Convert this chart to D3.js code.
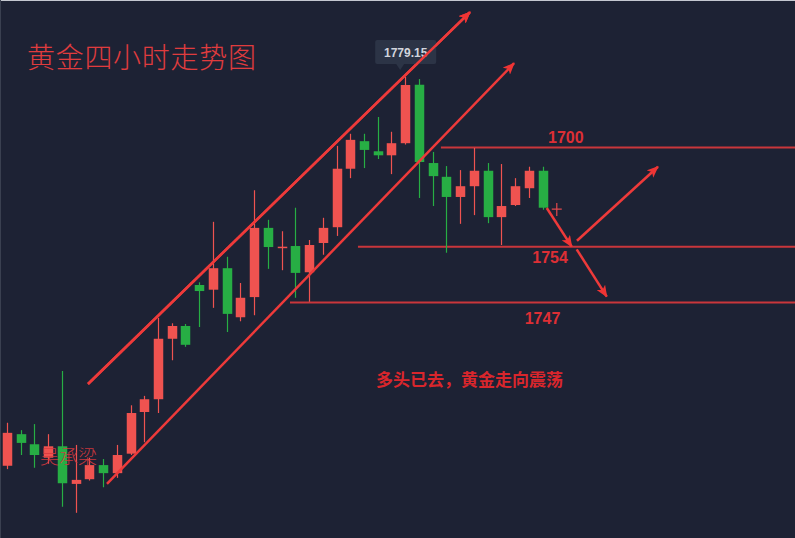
<!DOCTYPE html>
<html>
<head>
<meta charset="utf-8">
<script src="https://cdn.jsdelivr.net/npm/d3@7"></script>
<style>
  html, body { margin: 0; padding: 0; background: #1d2234; }
  svg { display: block; }
</style>
</head>
<body>
<svg id="chart" width="795" height="538"></svg>
<script>
// ---- Data (4H gold candles) ----
const bars  = ["K01","K02","K03","K04","K05","K06","K07","K08","K09","K10",
               "K11","K12","K13","K14","K15","K16","K17","K18","K19","K20",
               "K21","K22","K23","K24","K25","K26","K27","K28","K29","K30",
               "K31","K32","K33","K34","K35","K36","K37","K38","K39","K40"];
const open  = [1721.3,1726.0,1724.5,1722.5,1724.2,1718.6,1719.3,1721.4,1720.2,1723.1,
               1729.3,1731.2,1740.2,1742.1,1748.2,1747.5,1750.7,1743.4,1746.4,1756.7,
               1753.8,1754.0,1750.1,1754.45,1756.8,1765.5,1769.6,1768.1,1767.5,1769.3,
               1778.0,1766.35,1764.3,1761.3,1762.9,1765.2,1758.3,1760.1,1762.6,1765.2];
const high  = [1727.7,1726.6,1727.5,1726.0,1735.4,1724.4,1722.5,1722.3,1724.4,1730.3,
               1731.7,1743.3,1742.5,1742.4,1748.6,1757.6,1752.4,1748.5,1762.3,1757.9,
               1756.2,1759.7,1754.9,1758.2,1768.9,1770.7,1770.7,1773.2,1771.0,1779.15,
               1778.85,1768.0,1765.9,1765.3,1768.6,1766.35,1766.2,1764.1,1765.8,1765.8];
const low   = [1720.8,1722.9,1721.0,1721.6,1715.2,1714.3,1719.1,1718.1,1719.5,1722.9,
               1724.8,1729.15,1737.0,1739.0,1741.95,1744.8,1741.2,1742.8,1743.7,1750.6,
               1750.4,1746.3,1745.7,1752.7,1755.5,1764.1,1765.6,1766.95,1764.7,1769.1,
               1761.15,1759.95,1753.0,1757.3,1758.6,1757.4,1754.15,1759.95,1761.15,1759.4];
const close = [1726.2,1724.7,1722.9,1724.2,1718.7,1719.2,1721.4,1720.2,1722.9,1729.15,
               1731.2,1740.2,1742.1,1739.3,1747.3,1750.7,1743.9,1746.3,1756.7,1753.85,
               1753.9,1750.0,1754.15,1756.7,1765.5,1769.8,1768.3,1767.5,1769.3,1777.96,
               1766.5,1764.4,1761.3,1762.9,1765.2,1758.3,1759.95,1762.9,1765.2,1759.7];

// Horizontal levels (price) and their labels
const levelPrices = [1768.66, 1753.9, 1745.6];
const levelStarts = [31.6, 25.56, 20.61];            // bar index where each line starts
const levelLabels = ["1700", "1754", "1747"];
const levelLabelIdx = [40.7, 39.55, 39.0];
const levelLabelDy = [-5, 16.6, 21.7];

// Channel lines [fromIdx, fromPrice, toIdx, toPrice]
const channelUpper = [5.9, 1733.47, 33.72, 1788.8];
const channelLower = [7.28, 1718.59, 36.93, 1781.2];
// Projection arrows
const arrows = [
  [39.31, 1759.66, 41.13, 1753.9],
  [41.51, 1754.79, 47.41, 1765.8],
  [41.49, 1753.51, 43.68, 1746.46]
];
const crossMark = [40.04, 1759.5];
const tooltipIdx = 29;
const tooltipText = "1779.15";

const titleText = "黄金四小时走势图";
const noteText = "多头已去，黄金走向震荡";
const watermark = "吴承梁";

// ---- Setup ----
const W = 795, H = 538;
const svg = d3.select("#chart");
svg.append("rect").attr("width", W).attr("height", H).attr("fill", "#1d2234");
svg.append("line").attr("x1", 0).attr("x2", W).attr("y1", 0.5).attr("y2", 0.5)
   .attr("stroke", "#c4c8d0").attr("stroke-width", 1);
svg.append("line").attr("x1", 0.5).attr("x2", 0.5).attr("y1", 0).attr("y2", H)
   .attr("stroke", "#3a4050").attr("stroke-width", 1);

const x = d3.scaleLinear().domain([0, bars.length - 1]).range([7, 542.5]);
const y = d3.scaleLinear().domain([1710, 1790]).range([541.7, 4.1]);

const RED = "#ef5350", GREEN = "#27ae44";
const candles = bars.map((b, i) => ({ b, i, o: open[i], h: high[i], l: low[i], c: close[i] }));
const bw = 9.5;

// level lines
const lvl = svg.append("g");
levelPrices.forEach((p, k) => {
  lvl.append("line")
    .attr("x1", x(levelStarts[k])).attr("x2", W)
    .attr("y1", y(p)).attr("y2", y(p))
    .attr("stroke", "#c9363b").attr("stroke-width", 2);
});

// candles
const cg = svg.append("g");
const cs = cg.selectAll("g").data(candles).join("g");
cs.append("line")
  .attr("x1", d => Math.round(x(d.i)) + 0.5).attr("x2", d => Math.round(x(d.i)) + 0.5)
  .attr("y1", d => y(d.h)).attr("y2", d => y(d.l))
  .attr("stroke", d => d.c >= d.o ? RED : GREEN).attr("stroke-width", 1.2);
cs.append("rect")
  .attr("x", d => Math.round(x(d.i)) + 0.5 - bw / 2)
  .attr("width", bw)
  .attr("y", d => y(Math.max(d.o, d.c)))
  .attr("height", d => Math.max(1.5, Math.abs(y(d.o) - y(d.c))))
  .attr("fill", d => d.c >= d.o ? RED : GREEN);

// watermark
svg.append("text")
  .attr("x", 40).attr("y", 464)
  .attr("font-family", "'Noto Sans CJK SC', sans-serif").attr("font-weight", 300)
  .attr("font-size", 19).attr("fill", "#d8393f").attr("fill-opacity", 0.9)
  .text(watermark);

// arrow marker
const defs = svg.append("defs");
defs.append("marker").attr("id", "ah").attr("viewBox", "0 0 12 10")
  .attr("refX", 11).attr("refY", 5).attr("markerWidth", 12).attr("markerHeight", 10)
  .attr("markerUnits", "userSpaceOnUse").attr("orient", "auto")
  .append("path").attr("d", "M0,0 L12,5 L0,10 L3,5 Z").attr("fill", "#ef3434");

const LINE = "#ee3a3a";
[channelUpper, channelLower].forEach(c => {
  svg.append("line")
    .attr("x1", x(c[0])).attr("y1", y(c[1])).attr("x2", x(c[2])).attr("y2", y(c[3]))
    .attr("stroke", LINE).attr("stroke-width", 2.5).attr("marker-end", "url(#ah)");
});
arrows.forEach(a => {
  svg.append("line")
    .attr("x1", x(a[0])).attr("y1", y(a[1])).attr("x2", x(a[2])).attr("y2", y(a[3]))
    .attr("stroke", LINE).attr("stroke-width", 2.5).attr("marker-end", "url(#ah)");
});

// cross
const cx = x(crossMark[0]), cy = y(crossMark[1]);
svg.append("path")
  .attr("d", `M${cx - 5},${cy} H${cx + 5} M${cx},${cy - 6} V${cy + 7}`)
  .attr("stroke", "#e0484c").attr("stroke-width", 1.2).attr("fill", "none");

// level labels
levelLabels.forEach((t, k) => {
  svg.append("text")
    .attr("x", x(levelLabelIdx[k])).attr("y", y(levelPrices[k]) + levelLabelDy[k])
    .attr("text-anchor", "middle")
    .attr("font-family", "'Liberation Sans', Arial, sans-serif").attr("font-weight", "bold")
    .attr("font-size", 16).attr("fill", "#dd2f35")
    .text(t);
});

// tooltip
const tx = x(tooltipIdx), ty = y(high[tooltipIdx]);
const tip = svg.append("g");
tip.append("rect").attr("x", tx - 30).attr("y", ty - 37).attr("width", 61).attr("height", 24)
  .attr("rx", 2).attr("fill", "#2c3446");
tip.append("path")
  .attr("d", `M${tx - 9},${ty - 13} L${tx - 5},${ty - 7} L${tx - 1},${ty - 13} Z`)
  .attr("fill", "#2c3446");
tip.append("text").attr("x", tx + 0.5).attr("y", ty - 20.5).attr("text-anchor", "middle")
  .attr("font-family", "'Liberation Sans', Arial, sans-serif").attr("font-weight", "bold")
  .attr("font-size", 12).attr("fill", "#d1d4dc").text(tooltipText);

// redraw upper channel over tooltip (it crosses it)
svg.append("line")
  .attr("x1", x(channelUpper[0])).attr("y1", y(channelUpper[1]))
  .attr("x2", x(channelUpper[2])).attr("y2", y(channelUpper[3]))
  .attr("stroke", LINE).attr("stroke-width", 2.5).attr("marker-end", "url(#ah)");

// title
svg.append("text").attr("x", 27).attr("y", 68)
  .attr("font-family", "'Noto Sans CJK SC', sans-serif").attr("font-weight", 300)
  .attr("font-size", 28).attr("letter-spacing", 0.7).attr("fill", "#e03c3e").text(titleText);

// note
svg.append("text").attr("x", 376).attr("y", 386)
  .attr("font-family", "'Noto Sans CJK SC', sans-serif").attr("font-weight", "bold")
  .attr("font-size", 17).attr("fill", "#d9262c").text(noteText);
</script>
</body>
</html>
